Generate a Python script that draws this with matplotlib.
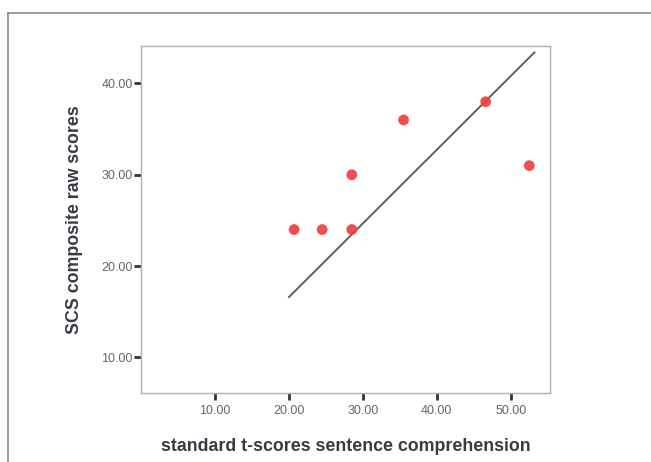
import matplotlib
matplotlib.use("Agg")
import matplotlib.pyplot as plt
from matplotlib.lines import Line2D

plt.rcParams['font.family'] = ['Liberation Sans', 'DejaVu Sans']

# data
t_scores = [20.7, 24.5, 28.5, 28.5, 35.5, 46.6, 52.5]
scs_raw = [24.0, 24.0, 24.0, 30.0, 36.0, 38.0, 31.0]
line_x = [20.0, 53.2]
line_y = [16.6, 43.4]
x_ticks = [10, 20, 30, 40, 50]
y_ticks = [10, 20, 30, 40]

fig = plt.figure(figsize=(6.51, 4.62), dpi=100)
W, H = 651, 462

# outer frame (open on the right and bottom)
frame_col = '#8a8a8a'
fig.add_artist(Line2D([8 / W, 8 / W], [0, 1 - 13 / H], transform=fig.transFigure,
                      color=frame_col, lw=1.2))
fig.add_artist(Line2D([8 / W, 1], [1 - 13 / H, 1 - 13 / H], transform=fig.transFigure,
                      color=frame_col, lw=1.2))

ax = fig.add_axes([141 / W, 1 - 393 / H, 409 / W, 347 / H])
ax.plot(line_x, line_y, color='#555555', lw=1.3, zorder=2)
ax.scatter(t_scores, scs_raw, s=60, color='#f03c3c', alpha=0.9, edgecolors='none', zorder=3)

ax.set_xlim(0, 55.3)
ax.set_ylim(6.1, 44.1)
ax.set_xticks(x_ticks)
ax.set_yticks(y_ticks)
ax.set_xticklabels(['%.2f' % v for v in x_ticks])
ax.set_yticklabels(['%.2f' % v for v in y_ticks])

for s in ax.spines.values():
    s.set_color('#b0b0b0')
    s.set_linewidth(1.0)
ax.tick_params(direction='out', length=5, width=2, color='#333333',
               labelsize=9, labelcolor='#666666')
ax.tick_params(axis='y', pad=1)
ax.tick_params(axis='x', pad=4)

ax.set_xlabel('standard t-scores sentence comprehension', fontsize=12.8,
              fontweight='bold', color='#3a3a44', labelpad=15)
ax.set_ylabel('SCS composite raw scores', fontsize=12.8,
              fontweight='bold', color='#3a3a44', labelpad=13)

fig.savefig('out.png', dpi=100)
